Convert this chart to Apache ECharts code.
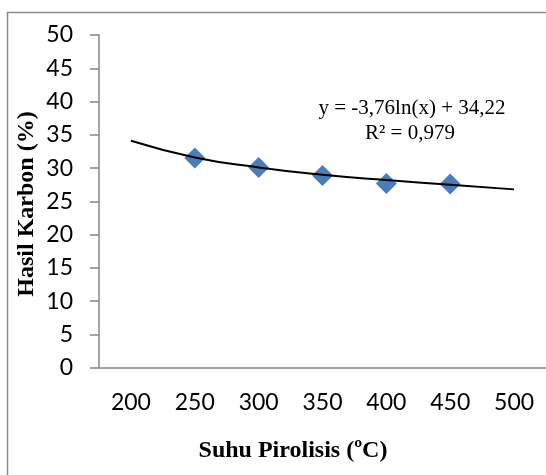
<!DOCTYPE html>
<html>
<head>
<meta charset="utf-8">
<script src="https://cdn.jsdelivr.net/npm/echarts@6/dist/echarts.min.js"></script>
<style>
html,body{margin:0;padding:0;background:#fff;}
#chart{width:546px;height:475px;}
</style>
</head>
<body>
<div id="chart"></div>
<script>
const categories = ['200', '250', '300', '350', '400', '450', '500'];
const hasilKarbon = ['-', 31.5, 30.1, 28.9, 27.7, 27.6, '-'];
const trendline = [34.1, 31.6, 30.1, 29.0, 28.2, 27.5, 26.8];
const yTicks = { min: 0, max: 50, interval: 5 };
const equationText = 'y = -3,76ln(x) + 34,22';
const r2Text = 'R² = 0,979';
const xTitle = 'Suhu Pirolisis (ºC)';
const yTitle = 'Hasil Karbon (%)';

const chart = echarts.init(document.getElementById('chart'), null, { renderer: 'canvas' });
const axisColor = '#868686';
const labelFont = 'Lato, "Open Sans", sans-serif';
const serif = '"Liberation Serif", "Times New Roman", serif';

chart.setOption({
  backgroundColor: '#ffffff',
  animation: false,
  grid: { left: 99, top: 35, width: 450, height: 332.7, containLabel: false },
  xAxis: {
    type: 'category',
    data: categories,
    boundaryGap: true,
    axisLine: { show: true, lineStyle: { color: axisColor, width: 1.5 } },
    axisTick: { show: false },
    splitLine: { show: false },
    axisLabel: { color: '#000', fontFamily: labelFont, fontSize: 23, margin: 23, interval: 0 }
  },
  yAxis: {
    type: 'value',
    min: yTicks.min, max: yTicks.max, interval: yTicks.interval,
    axisLine: { show: true, lineStyle: { color: axisColor, width: 1.5 } },
    axisTick: { show: true, inside: false, length: 9, lineStyle: { color: axisColor, width: 1.5 } },
    splitLine: { show: false },
    axisLabel: { color: '#000', fontFamily: labelFont, fontSize: 23, margin: 26 }
  },
  series: [
    {
      type: 'scatter',
      data: hasilKarbon,
      symbol: 'diamond',
      symbolSize: 21,
      itemStyle: { color: '#4a7ebb', opacity: 1 },
      z: 2
    },
    {
      type: 'line',
      data: trendline,
      smooth: 0.5,
      symbol: 'none',
      lineStyle: { color: '#000', width: 2 },
      z: 3
    }
  ],
  graphic: [
    {
      type: 'rect',
      shape: { x: 7.5, y: 12.5, width: 700, height: 700 },
      style: { fill: null, stroke: '#8c8c8c', lineWidth: 1.5 },
      silent: true
    },
    {
      type: 'text',
      x: 412, y: 108,
      style: { text: equationText, font: '21px ' + serif, fill: '#000', align: 'center', verticalAlign: 'middle' }
    },
    {
      type: 'text',
      x: 410, y: 133,
      style: { text: r2Text, font: '21px ' + serif, fill: '#000', align: 'center', verticalAlign: 'middle' }
    },
    {
      type: 'text',
      x: 293, y: 451,
      style: { text: xTitle, font: 'bold 24px ' + serif, fill: '#000', align: 'center', verticalAlign: 'middle' }
    },
    {
      type: 'text',
      x: 27, y: 204,
      rotation: Math.PI / 2,
      style: { text: yTitle, font: 'bold 24px ' + serif, fill: '#000', align: 'center', verticalAlign: 'middle' }
    }
  ]
});
</script>
</body>
</html>
